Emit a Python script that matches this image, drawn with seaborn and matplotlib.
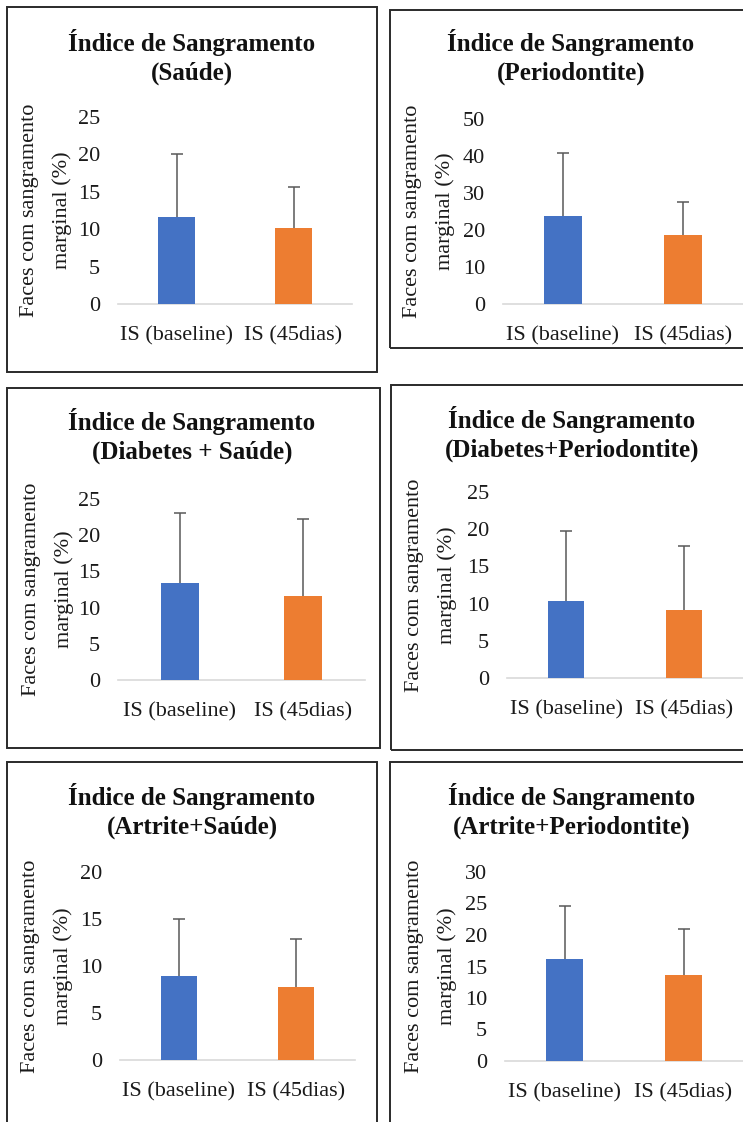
import matplotlib
matplotlib.use("Agg")
import matplotlib.pyplot as plt
import seaborn as sns
import pandas as pd
import numpy as np
from matplotlib.patches import Rectangle

# ---------------- data ----------------
categories = ["IS (baseline)", "IS (45dias)"]
panel_titles = [
    "Índice de Sangramento\n(Saúde)",
    "Índice de Sangramento\n(Periodontite)",
    "Índice de Sangramento\n(Diabetes + Saúde)",
    "Índice de Sangramento\n(Diabetes+Periodontite)",
    "Índice de Sangramento\n(Artrite+Saúde)",
    "Índice de Sangramento\n(Artrite+Periodontite)",
]
baseline_mean = [11.6, 23.8, 13.4, 10.3, 8.95, 16.2]
baseline_sd = [8.5, 16.9, 9.6, 9.4, 6.1, 8.4]
day45_mean = [10.1, 18.6, 11.6, 9.2, 7.8, 13.7]
day45_sd = [5.6, 8.9, 10.7, 8.6, 5.1, 7.2]
y_max = [25, 50, 25, 25, 20, 30]
y_step = [5, 10, 5, 5, 5, 5]
ylabel_text = "Faces com sangramento\nmarginal (%)"

# ---------------- layout (pixels, y from top) ----------------
W, H = 743, 1122
axes_px = [  # x0, x1, ytop, ybottom
    (118, 352, 117, 304),
    (503, 743, 119, 304),
    (118, 365, 499, 680),
    (507, 743, 492, 678),
    (120, 355, 872, 1060),
    (505, 743, 872, 1061),
]
boxes_px = [  # x0, x1, ytop, ybottom
    (7, 377, 7, 372),
    (390, 760, 10, 348),
    (7, 380, 388, 748),
    (391, 760, 385, 750),
    (7, 377, 762, 1140),
    (390, 760, 762, 1140),
]
title_px = [(192, 57), (571, 57), (192, 436), (572, 434), (192, 811), (572, 811)]
ylabel_px = [46, 429, 48, 431, 47, 431]

BLUE = "#4472C4"
ORANGE = "#ED7D31"

sns.set_theme(style="white")
plt.rcParams["font.family"] = ["Liberation Serif", "DejaVu Serif"]

fig = plt.figure(figsize=(W / 100, H / 100), dpi=100)
fig.patch.set_facecolor("white")

for i in range(6):
    bx0, bx1, byt, byb = boxes_px[i]
    fig.patches.append(Rectangle((bx0 / W, 1 - byb / H), (bx1 - bx0) / W, (byb - byt) / H,
                                 transform=fig.transFigure, fill=False,
                                 edgecolor="#2a2a2a", linewidth=1.4, zorder=0))

    x0, x1, yt, yb = axes_px[i]
    ax = fig.add_axes([x0 / W, 1 - yb / H, (x1 - x0) / W, (yb - yt) / H])
    df = pd.DataFrame({"Momento": categories,
                       "valor": [baseline_mean[i], day45_mean[i]]})
    sns.barplot(data=df, x="Momento", y="valor", hue="Momento",
                palette=[BLUE, ORANGE], saturation=1, width=0.31, errorbar=None,
                linewidth=0, legend=False, ax=ax)
    means = [baseline_mean[i], day45_mean[i]]
    sds = [baseline_sd[i], day45_sd[i]]
    _, caps, _ = ax.errorbar(np.arange(len(categories)), means,
                             yerr=[np.zeros(len(sds)), sds], fmt="none",
                             ecolor="#595959", elinewidth=1.1, capsize=4.5,
                             capthick=1.1, zorder=3)
    caps[0].set_visible(False)  # hide lower caps (one-sided bars)
    ax.set_xlim(-0.5, 1.5)
    ax.set_ylim(0, y_max[i])
    ax.set_yticks(np.arange(0, y_max[i] + 0.1, y_step[i]))
    ax.set_xlabel("")
    ax.set_ylabel("")
    for s in ["top", "right", "left"]:
        ax.spines[s].set_visible(False)
    ax.spines["bottom"].set_color("#d9d9d9")
    ax.spines["bottom"].set_linewidth(1.2)
    ax.spines["bottom"].set_zorder(0.5)
    ax.tick_params(axis="y", length=0, labelsize=16, colors="#1a1a1a", pad=13)
    ax.tick_params(axis="x", length=0, labelsize=16, colors="#1a1a1a", pad=16)
    ax.patch.set_alpha(0)
    ax.text((ylabel_px[i] - x0) / (x1 - x0), 0.5, ylabel_text, transform=ax.transAxes,
            rotation=90, ha="center", va="center", rotation_mode="anchor",
            multialignment="center", fontsize=16, linespacing=1.9, color="#1a1a1a")

    tx, ty = title_px[i]
    fig.text(tx / W, 1 - ty / H, panel_titles[i], ha="center", va="center",
             multialignment="center", fontsize=18, fontweight="bold",
             linespacing=1.35, color="#111111")

fig.savefig("out.png", dpi=100, facecolor="white")
